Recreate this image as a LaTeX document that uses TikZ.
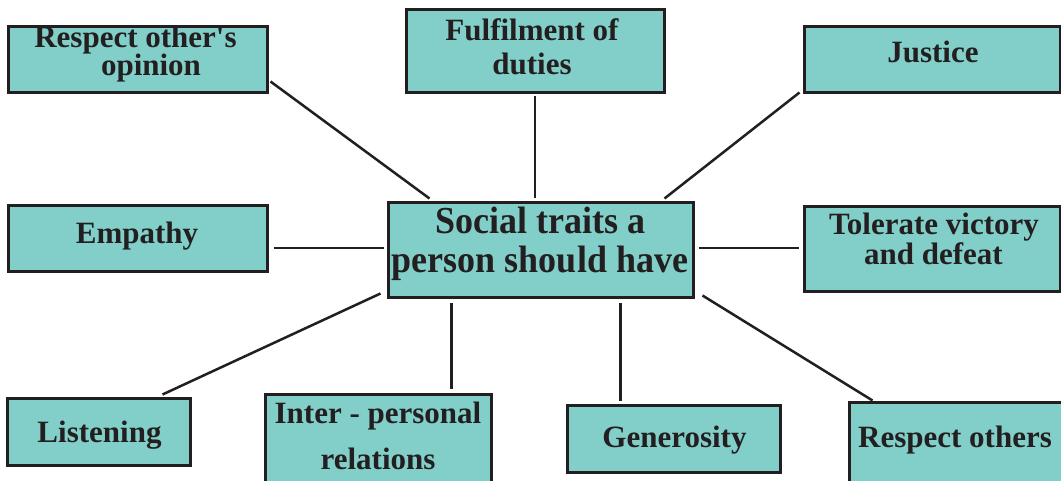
\documentclass[tikz,border=0pt]{standalone}
\usepackage{fontspec}
\usepackage{graphicx}
\setmainfont{Liberation Serif}
\usetikzlibrary{calc}
\definecolor{boxfill}{HTML}{82CFC9}
\definecolor{ink}{HTML}{231F20}
\tikzset{
  box/.style={draw=ink, line width=3pt, fill=boxfill, rectangle, inner sep=0pt},
  lbl/.style={font=\bfseries\fontsize{31}{31}\selectfont, text=ink, inner sep=0pt, anchor=base},
  biglbl/.style={font=\bfseries\fontsize{36}{36}\selectfont, text=ink, inner sep=0pt, anchor=base},
  conn/.style={draw=ink, line width=2.5pt}
}
\newcommand{\tallsc}[1]{\scalebox{1}[1.06]{#1}}
\begin{document}
\begin{tikzpicture}[x=1pt,y=-1pt]
\useasboundingbox (0,0) rectangle (1061,481);
% boxes
\node[box, minimum width=259pt, minimum height=66pt] (rop) at (137.5,60) {};
\node[box, minimum width=258pt, minimum height=83pt] (ful) at (535,51.5) {};
\node[box, minimum width=256pt, minimum height=66pt] (jus) at (932,60) {};
\node[box, minimum width=259pt, minimum height=66pt] (emp) at (137.5,239) {};
\node[box, minimum width=305pt, minimum height=95pt] (cen) at (540.5,250.5) {};
\node[box, minimum width=256pt, minimum height=85pt] (tol) at (932,249.5) {};
\node[box, minimum width=183pt, minimum height=67pt] (lis) at (98.5,431.5) {};
\node[box, minimum width=226pt, minimum height=100pt] (int) at (378,444) {};
\node[box, minimum width=213pt, minimum height=67pt] (gen) at (673.5,438.5) {};
\node[box, minimum width=222pt, minimum height=100pt] (reo) at (960,452) {};
% labels
\node[lbl] (t1a) at (135.5,47.5) {Respect other\textquotesingle s};
\node[lbl] (t1b) at (151,75.5) {opinion};
\node[lbl] (t2a) at (532,41) {Fulfilment of};
\node[lbl] (t2b) at (532,75) {duties};
\node[lbl] (t3) at (933,63) {Justice};
\node[lbl] (t4) at (137,244) {Empathy};
\node[biglbl] (t5a) at (540,234) {\tallsc{Social traits a}};
\node[biglbl] (t5b) at (540,273) {\tallsc{person should have}};
\node[lbl] (t6a) at (934,235) {Tolerate victory};
\node[lbl] (t6b) at (933.5,265) {and defeat};
\node[lbl] (t7) at (99.5,442) {Listening};
\node[lbl] (t8a) at (378,423) {Inter - personal};
\node[lbl] (t8b) at (378,469) {relations};
\node[lbl] (t9) at (674.5,447) {Generosity};
\node[lbl] (t10) at (955,447) {Respect others};
% connectors
\draw[conn] ($(rop.south east)+(2,-13)$) -- ($(cen.north west)+(43,-3)$);
\draw[conn] ($(ful.south)+(0,2)$) -- ($(cen.north)+(-5.5,-3)$);
\draw[conn] ($(jus.south west)+(-3,-2)$) -- ($(cen.north east)+(-30,-3)$);
\draw[conn] ($(emp.east)+(5,9)$) -- ($(cen.west)+(-3,-2.5)$);
\draw[conn] ($(cen.east)+(4,-2.5)$) -- ($(tol.west)+(-4,-1.5)$);
\draw[conn] ($(lis.north west)+(157,-2)$) -- ($(cen.south west)+(-6,-6)$);
\draw[conn] ($(cen.south west)+(65,4)$) -- ($(int.north west)+(188,-4)$);
\draw[conn] ($(cen.south west)+(234,4)$) -- ($(gen.north west)+(55,-3)$);
\draw[conn] ($(cen.south east)+(8,-4)$) -- ($(reo.north west)+(25,0)$);
\end{tikzpicture}
\end{document}
